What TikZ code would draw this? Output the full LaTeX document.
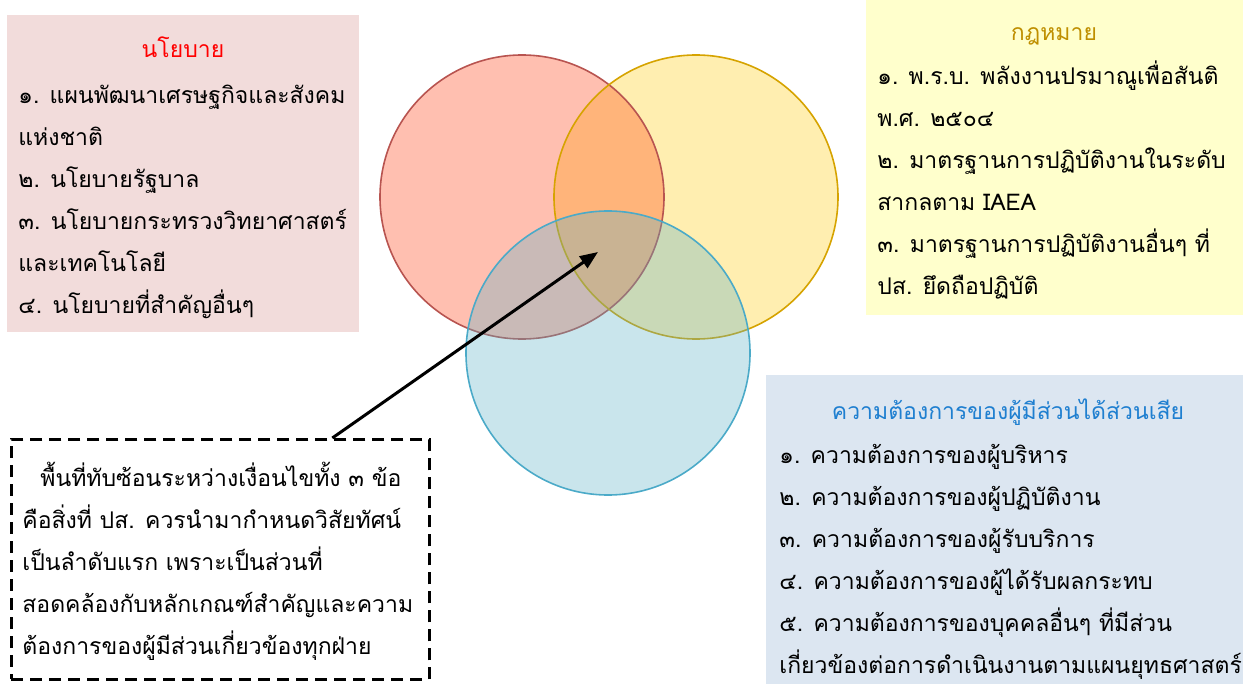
\documentclass[tikz,border=0pt]{standalone}
\usepackage{fontspec}
\newfontfamily\thaifont[Script=Thai]{Loma}
\usepackage{tikz}
\usetikzlibrary{arrows.meta, positioning, calc}
\definecolor{VNpolicy}{HTML}{F2DCDB}
\definecolor{VNlaw}{HTML}{FFFFCC}
\definecolor{VNneed}{HTML}{DCE6F1}
\definecolor{VNred}{HTML}{FF0000}
\definecolor{VNgold}{HTML}{BF8F00}
\definecolor{VNblue}{HTML}{1F7FD0}
\definecolor{VNredfill}{HTML}{FFBFB0}
\definecolor{VNyelfill}{HTML}{FFEEB0}
\definecolor{VNorange}{HTML}{FFB47A}
\definecolor{VNbluebase}{HTML}{5DB1C6}
\definecolor{VNredline}{HTML}{B85450}
\definecolor{VNyelline}{HTML}{D6A300}
\definecolor{VNblueline}{HTML}{4BAAC8}
\tikzset{
  vnbox/.style={rectangle, inner sep=0pt, anchor=north west},
  vnhead/.style={font=\thaifont\fontsize{11.5pt}{21pt}\selectfont, anchor=base, inner sep=0pt},
  vnlist/.style={align=left, anchor=north west, inner sep=0pt,
    font=\thaifont\fontsize{11.5pt}{21pt}\selectfont},
  vnnote/.style={rectangle, draw=black, line width=1.4pt, dash pattern=on 6pt off 3.5pt,
    inner sep=0pt, anchor=north west},
  vnarr/.style={-{Triangle[length=9pt,width=7pt]}, line width=1.5pt, draw=black},
}
\begin{document}
\begin{tikzpicture}[x=0.5pt, y=-0.5pt]
  \useasboundingbox (0,0) rectangle (1243,684);
  % boxes
  \node[vnbox, fill=VNpolicy, minimum width=176pt, minimum height=158.5pt] (policy) at (7,15) {};
  \node[vnbox, fill=VNlaw, minimum width=188.5pt, minimum height=157.5pt] (law) at (866,0) {};
  \node[vnbox, fill=VNneed, minimum width=238.5pt, minimum height=154.5pt] (need) at (766,375) {};
  \node[vnnote, minimum width=209pt, minimum height=120pt] (note) at (10,438) {};
  % venn
  \fill[VNredfill] (522,197) circle[radius=142];
  \fill[VNyelfill] (696,197) circle[radius=142];
  \begin{scope}
    \clip (522,197) circle[radius=142];
    \fill[VNorange] (696,197) circle[radius=142];
  \end{scope}
  \draw[VNredline, line width=0.8pt] (522,197) circle[radius=142];
  \draw[VNyelline, line width=0.8pt] (696,197) circle[radius=142];
  \filldraw[fill=VNbluebase, fill opacity=0.333, draw=VNblueline, line width=0.8pt]
    (608,353) circle[radius=142];
  \coordinate (core) at (598,252);
  % texts
  \node[vnhead, text=VNred] (policyhead) at (183,58) {นโยบาย};
  \node[vnlist] (policylist) at (18,85) {๑. แผนพัฒนาเศรษฐกิจและสังคม\\แห่งชาติ\\๒. นโยบายรัฐบาล\\๓. นโยบายกระทรวงวิทยาศาสตร์\\และเทคโนโลยี\\๔. นโยบายที่สำคัญอื่นๆ};
  \node[vnhead, text=VNgold] (lawhead) at (1054,41) {กฎหมาย};
  \node[vnlist] (lawlist) at (877,60) {๑. พ.ร.บ. พลังงานปรมาณูเพื่อสันติ\\พ.ศ. ๒๕๐๔\\๒. มาตรฐานการปฏิบัติงานในระดับ\\สากลตาม IAEA\\๓. มาตรฐานการปฏิบัติงานอื่นๆ ที่\\ปส. ยึดถือปฏิบัติ};
  \node[vnhead, text=VNblue] (needhead) at (1008,419) {ความต้องการของผู้มีส่วนได้ส่วนเสีย};
  \node[vnlist] (needlist) at (779,444) {๑. ความต้องการของผู้บริหาร\\๒. ความต้องการของผู้ปฏิบัติงาน\\๓. ความต้องการของผู้รับบริการ\\๔. ความต้องการของผู้ได้รับผลกระทบ\\๕. ความต้องการของบุคคลอื่นๆ ที่มีส่วน\\เกี่ยวข้องต่อการดำเนินงานตามแผนยุทธศาสตร์};
  \node[vnlist] (notetext) at (22,462) {\hspace*{9pt}พื้นที่ทับซ้อนระหว่างเงื่อนไขทั้ง ๓ ข้อ\\คือสิ่งที่ ปส. ควรนำมากำหนดวิสัยทัศน์\\เป็นลำดับแรก เพราะเป็นส่วนที่\\สอดคล้องกับหลักเกณฑ์สำคัญและความ\\ต้องการของผู้มีส่วนเกี่ยวข้องทุกฝ่าย};
  \draw[vnarr] ($(note.north west)!0.766!(note.north east)$) -- (core);
\end{tikzpicture}
\end{document}
